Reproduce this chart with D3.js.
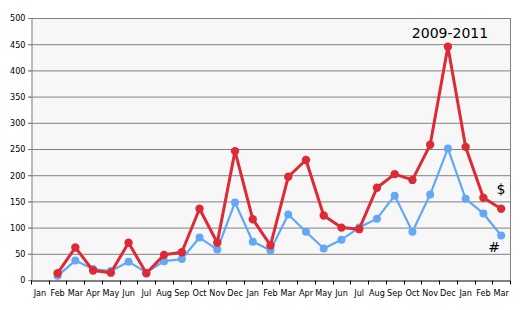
<!DOCTYPE html>
<html><head><meta charset="utf-8">
<script src="https://cdn.jsdelivr.net/npm/d3@7"></script>
<style>body{margin:0;background:#fff}svg{display:block}text{font-family:"DejaVu Sans",Verdana,sans-serif}</style>
</head><body><svg id="c" width="520" height="310"></svg>
<script>
const months = ["Jan","Feb","Mar","Apr","May","Jun","Jul","Aug","Sep","Oct","Nov","Dec","Jan","Feb","Mar","Apr","May","Jun","Jul","Aug","Sep","Oct","Nov","Dec","Jan","Feb","Mar"];
const dollarSeries = [null,13,62,18,14,71,13,48,53,136,71,246,116,66,197,229,123,100,97,176,202,191,258,445,254,157,136];
const hashSeries   = [null,8,37,21,17,35,14,36,40,81,58,148,73,57,125,92,60,77,100,117,161,92,163,251,155,127,85];
const yTicks = [0,50,100,150,200,250,300,350,400,450,500];
const title = "2009-2011";

const svg = d3.select("#c");
const m = {l:31, t:18, r:510, b:280};
const x = d3.scaleBand().domain(d3.range(months.length)).range([m.l, m.r]);
const y = d3.scaleLinear().domain([0,500]).range([m.b, m.t]);
const lblFont = '"DejaVu Sans Condensed","Liberation Sans Narrow","Liberation Sans",sans-serif';

svg.append("rect").attr("x",m.l).attr("y",m.t).attr("width",m.r-m.l).attr("height",m.b-m.t).attr("fill","#f7f7f7");

svg.append("g").selectAll("line").data(yTicks.filter(d=>d>0)).join("line")
  .attr("x1",m.l-3).attr("x2",m.r).attr("y1",d=>y(d)+0.5).attr("y2",d=>y(d)+0.5)
  .attr("stroke","#808080").attr("stroke-width",1);
svg.append("line").attr("x1",m.r+0.5).attr("x2",m.r+0.5).attr("y1",m.t).attr("y2",m.b).attr("stroke","#808080");

const ya = svg.append("g").attr("transform",`translate(${m.l+0.5},0)`)
  .call(d3.axisLeft(y).tickValues(yTicks).tickSize(3).tickPadding(3));
ya.select(".domain").attr("stroke","#808080");
ya.selectAll(".tick line").attr("stroke","#808080");
ya.selectAll("text").attr("font-size",9).attr("fill","#000").style("font-family",lblFont);

const xa = svg.append("g").attr("transform",`translate(0,${m.b+0.5})`)
  .call(d3.axisBottom(x).tickFormat(i=>months[i]).tickSize(0).tickPadding(9));
xa.select(".domain").attr("stroke","#000");
xa.selectAll("text").attr("font-size",9).attr("fill","#000").style("font-family",lblFont);
xa.selectAll("line.bd").data(d3.range(months.length+1)).join("line").attr("class","bd")
  .attr("x1",i=>Math.round(m.l+i*x.step())+0.5).attr("x2",i=>Math.round(m.l+i*x.step())+0.5)
  .attr("y1",0).attr("y2",4).attr("stroke","#000");

const cx = i => x(i)+x.bandwidth()/2;
function series(data,color,w,r){
  const pts = data.map((v,i)=>({i,v})).filter(d=>d.v!=null);
  svg.append("path").datum(pts)
    .attr("d",d3.line().x(d=>cx(d.i)).y(d=>y(d.v)))
    .attr("fill","none").attr("stroke",color).attr("stroke-width",w).attr("stroke-linejoin","round");
  svg.append("g").selectAll("circle").data(pts).join("circle")
    .attr("cx",d=>cx(d.i)).attr("cy",d=>y(d.v)).attr("r",r).attr("fill",color);
}
series(hashSeries,"#62a8f5",2.2,4);
series(dollarSeries,"#dd2a35",3,4.2);

svg.append("text").attr("x",450).attr("y",38).attr("text-anchor","middle").attr("font-size",14).attr("fill","#000").text(title);
svg.append("text").attr("x",501).attr("y",194).attr("text-anchor","middle").attr("font-size",14).attr("fill","#000").text("$");
svg.append("text").attr("x",494).attr("y",252).attr("text-anchor","middle").attr("font-size",14).attr("fill","#000").text("#");
</script></body></html>
